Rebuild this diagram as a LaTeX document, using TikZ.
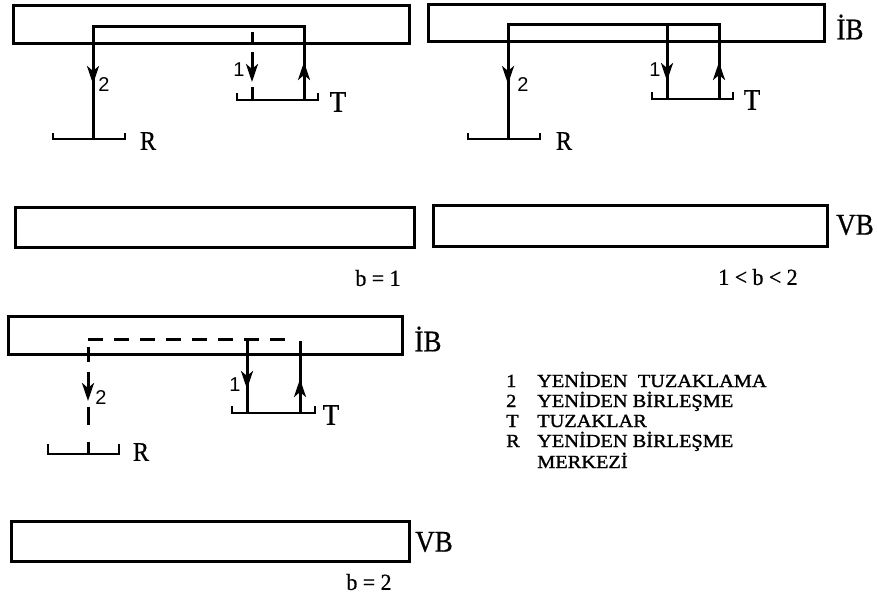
\documentclass[tikz,border=0pt]{standalone}
\usepackage{fontspec}
\setmainfont{Liberation Serif}
\newfontfamily\lblfont[FakeStretch=0.9,FakeBold=0.6]{Liberation Serif}
\newfontfamily\capfont[FakeStretch=0.95,FakeBold=0.8]{Liberation Serif}
\newfontfamily\legfont[FakeStretch=1.1,FakeBold=1.4]{Liberation Serif}
\newfontfamily\numfont{Liberation Sans}
\usetikzlibrary{arrows.meta}
\begin{document}
\begin{tikzpicture}[x=1pt,y=-1pt,
  band/.style={line width=3pt},
  wire/.style={line width=3pt},
  brk/.style={line width=2.6pt},
  arr/.style={line width=3pt,-{Stealth[length=18pt,width=12pt,inset=5pt]}},
  dsh/.style={line width=3pt,dash pattern=on 15pt off 11pt},
  lbl/.style={font=\lblfont\fontsize{30}{32}\selectfont, inner sep=0pt},
  lblr/.style={font=\lblfont\fontsize{27}{29}\selectfont, inner sep=0pt},
  num/.style={font=\numfont\fontsize{20}{22}\selectfont, inner sep=0pt},
  captxt/.style={font=\capfont\fontsize{23}{25}\selectfont, inner sep=0pt},
  leg/.style={font=\legfont\fontsize{18.5}{20}\selectfont, inner sep=0pt, anchor=base west}]
\useasboundingbox (0,0) rectangle (877,597);

% ---------- Panel 1 (top-left), b = 1 ----------
\draw[band] (13,5) rectangle (409,43);
\draw[band] (15,207) rectangle (414,247);
\draw[wire] (93,139) -- (93,26) -- (304,26) -- (304,100);
\draw[arr] (93,60) -- (93,84);
\draw[arr] (304,85) -- (304,62);
\draw[wire] (252,32) -- (252,45);
\draw[arr] (252,52) -- (252,82);
\draw[wire] (252,87) -- (252,100);
\draw[brk] (237,93) -- (237,100) -- (318,100) -- (318,93);
\draw[brk] (53,133) -- (53,139) -- (125,139) -- (125,133);
\node[num] (n1a) at (239,70) {1};
\node[num] (n2a) at (104,85) {2};
\node[lbl] (ta) at (338,102) {T};
\node[lblr] (ra) at (148,141) {R};
\node[captxt] (ba) at (378,278) {b = 1};

% ---------- Panel 2 (top-right), 1 < b < 2 ----------
\draw[band] (428,4) rectangle (824,41);
\draw[band] (433,205) rectangle (827,246);
\draw[wire] (508,139) -- (508,24) -- (719,24) -- (719,99);
\draw[wire] (667,24) -- (667,99);
\draw[arr] (667,55) -- (667,81);
\draw[arr] (508,60) -- (508,84);
\draw[arr] (719,85) -- (719,62);
\draw[brk] (652,92) -- (652,99) -- (733,99) -- (733,92);
\draw[brk] (468,133) -- (468,139) -- (540,139) -- (540,133);
\node[num] (n1b) at (655,70) {1};
\node[num] (n2b) at (523,85) {2};
\node[lbl] (tb) at (752,100) {T};
\node[lblr] (rb) at (564,141) {R};
\node[lbl] (ibb) at (850,27) {İB};
\node[lbl] (vbb) at (855,225) {VB};
\node[captxt] (bb) at (758,277) {1 < b < 2};

% ---------- Panel 3 (bottom-left), b = 2 ----------
\draw[band] (8,316) rectangle (402,354);
\draw[band] (11,521) rectangle (409,561);
\draw[dsh] (88,339) -- (290,339);
\draw[wire] (247,339) -- (247,413);
\draw[wire] (300,341) -- (300,413);
\draw[arr] (247,365) -- (247,389);
\draw[arr] (300,398) -- (300,379);
\draw[wire] (88,347) -- (88,362);
\draw[arr] (88,372) -- (88,401);
\draw[wire] (88,407) -- (88,425);
\draw[wire] (88,442) -- (88,454);
\draw[brk] (232,406) -- (232,413) -- (315,413) -- (315,406);
\draw[brk] (48,444) -- (48,454) -- (119,454) -- (119,444);
\node[num] (n1c) at (235,385) {1};
\node[num] (n2c) at (101,398) {2};
\node[lbl] (tc) at (331,415) {T};
\node[lblr] (rc) at (141,452) {R};
\node[lbl] (ibc) at (428,339) {İB};
\node[lbl] (vbc) at (434,542) {VB};
\node[captxt] (bc) at (369,582) {b = 2};

% ---------- Legend ----------
\node[leg] (k1) at (506,387) {1};
\node[leg] (k2) at (506,407) {2};
\node[leg] (k3) at (506,427) {T};
\node[leg] (k4) at (506,447) {R};
\node[leg] (l1) at (537,387) {YENİDEN\ \ TUZAKLAMA};
\node[leg] (l2) at (537,407) {YENİDEN BİRLEŞME};
\node[leg] (l3) at (537,427) {TUZAKLAR};
\node[leg] (l4) at (537,447) {YENİDEN BİRLEŞME};
\node[leg] (l5) at (537,468) {MERKEZİ};
\end{tikzpicture}
\end{document}
